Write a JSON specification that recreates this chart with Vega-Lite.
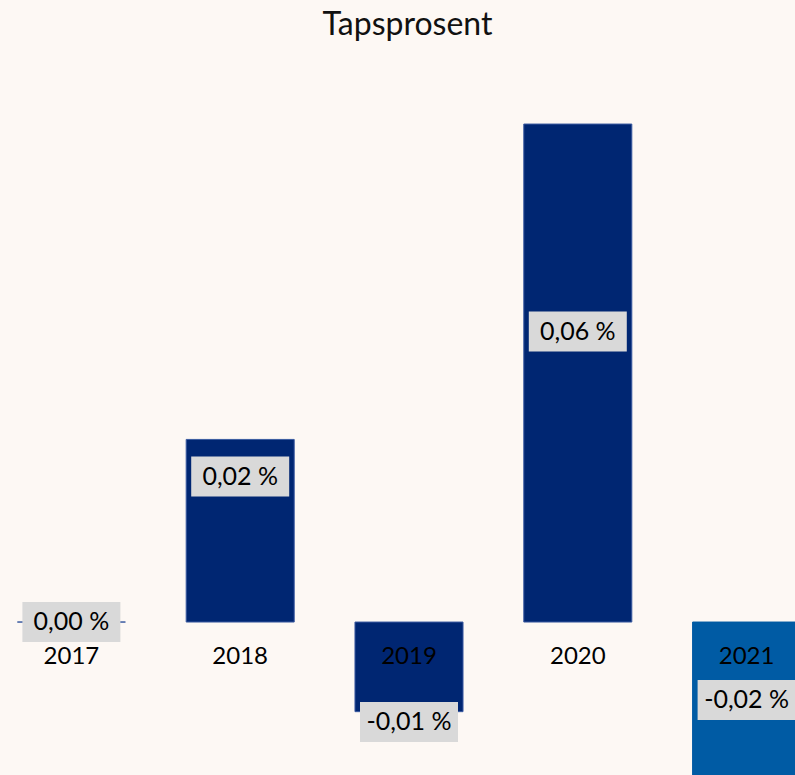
{
  "$schema": "https://vega.github.io/schema/vega-lite/v6.json",
  "width": 795,
  "height": 725,
  "autosize": {"type": "none"},
  "padding": {"left": 0, "right": 0, "top": 50, "bottom": 0},
  "background": "#fdf8f4",
  "title": {"text": "Tapsprosent", "fontSize": 32, "font": "Lato", "fontWeight": "normal", "color": "#111111", "anchor": "middle", "dx": 10, "dy": 34, "offset": 17, "baseline": "alphabetic"},
  "config": {"view": {"stroke": null}, "font": "Lato"},
  "data": {"values": [
    {"year": "2017", "value": 0.0},
    {"year": "2018", "value": 0.022},
    {"year": "2019", "value": -0.0108},
    {"year": "2020", "value": 0.06},
    {"year": "2021", "value": -0.0195}
  ]},
  "transform": [
    {"calculate": "replace(replace(format(datum.value, '.2f'), '.', ','), '\u2212', '-') + ' %'", "as": "label"},
    {"calculate": "datum.value > 0 ? 0.46*datum.value + 0.0074 : (datum.value < 0 ? (datum.value >= -0.0184 ? datum.value*1.115 : -0.0094) : 0)", "as": "labelY"},
    {"calculate": "datum.labelY - 0.00241", "as": "boxLo"},
    {"calculate": "datum.labelY + 0.00241", "as": "boxHi"}
  ],
  "encoding": {
    "x": {"field": "year", "type": "nominal", "axis": null,
          "scale": {"range": [-13, 831], "paddingInner": 0.36, "paddingOuter": 0.18}}
  },
  "layer": [
    {
      "mark": {"type": "bar", "clip": true, "strokeWidth": 1},
      "encoding": {
        "y": {"field": "value", "type": "quantitative", "axis": null, "title": null,
              "scale": {"domain": [-0.01843, 0.06892], "nice": false, "zero": false}},
        "color": {"field": "year", "type": "nominal", "legend": null,
                  "scale": {"domain": ["2017","2018","2019","2020","2021"], "range": ["#002672","#002672","#002672","#002672","#005ba4"]}},
        "stroke": {"field": "year", "type": "nominal", "legend": null,
                  "scale": {"domain": ["2017","2018","2019","2020","2021"], "range": ["#3a5aa0","#3a5aa0","#3a5aa0","#3a5aa0","#005ba4"]}}
      }
    },
    {
      "mark": {"type": "text", "dy": 35, "baseline": "middle", "fontSize": 24, "color": "#000000"},
      "encoding": {
        "y": {"datum": 0, "type": "quantitative"},
        "text": {"field": "year"}
      }
    },
    {
      "mark": {"type": "bar", "width": 98, "color": "#d9d9d9"},
      "encoding": {
        "y": {"field": "boxLo", "type": "quantitative"},
        "y2": {"field": "boxHi"}
      }
    },
    {
      "mark": {"type": "text", "baseline": "middle", "fontSize": 25, "color": "#000000"},
      "encoding": {
        "y": {"field": "labelY", "type": "quantitative"},
        "text": {"field": "label"}
      }
    }
  ]
}
